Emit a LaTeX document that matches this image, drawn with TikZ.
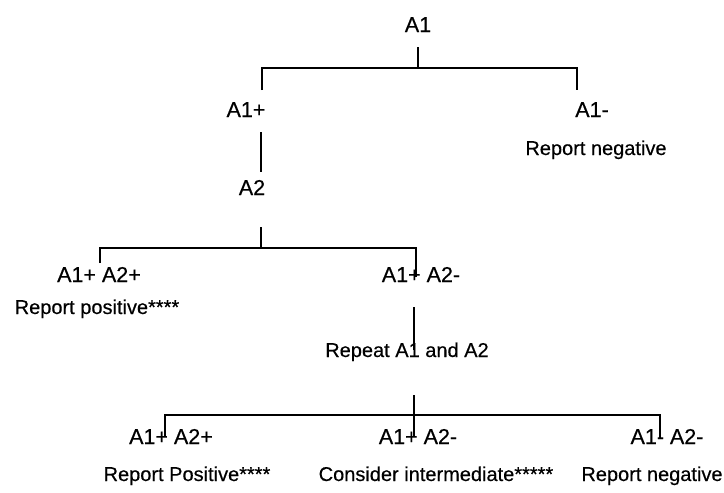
\documentclass[tikz,border=0pt]{standalone}
\usepackage{fontspec}
\setmainfont{Liberation Sans}[FakeBold=0.4]
\begin{document}
\begin{tikzpicture}[x=1pt,y=-1pt,
  lab/.style={inner sep=0pt, anchor=base, font=\fontsize{21.5}{24}\selectfont},
  txt/.style={inner sep=0pt, anchor=base, font=\fontsize{20}{24}\selectfont},
  conn/.style={line width=1.6pt, line cap=butt}]
\useasboundingbox (0,0) rectangle (724,493);
% texts
\node[lab] (a1) at (418,32) {A1};
\node[lab] (a1p) at (246,117) {A1+};
\node[lab] (a1m) at (592,117) {A1-};
\node[txt] (rn1) at (596,155) {Report negative};
\node[lab] (a2) at (252,195) {A2};
\node[lab] (pp1) at (99,282) {A1+ A2+};
\node[txt] (rp1) at (97,314) {Report positive****};
\node[lab] (pm1) at (421,282) {A1+ A2-};
\node[txt] (rep) at (407,357) {Repeat A1 and A2};
\node[lab] (pp2) at (171,444) {A1+ A2+};
\node[lab] (pm2) at (418,444) {A1+ A2-};
\node[lab] (mm2) at (667,444) {A1- A2-};
\node[txt] (rp2) at (187,481) {Report Positive****};
\node[txt] (ci) at (436,481) {Consider intermediate*****};
\node[txt] (rn2) at (652,481) {Report negative};
% connector points
\coordinate (s1) at (418,47);
\coordinate (j1) at (418,68);
\coordinate (l1) at (262,68);
\coordinate (l1e) at (262,90);
\coordinate (r1) at (577,68);
\coordinate (r1e) at (577,90);
\coordinate (s2) at (261,132);
\coordinate (e2) at (261,172);
\coordinate (s3) at (261,227);
\coordinate (j3) at (261,248);
\coordinate (l3) at (100,248);
\coordinate (l3e) at (100,263);
\coordinate (r3) at (416,248);
\coordinate (r3e) at (416,277);
\coordinate (s4) at (414,307);
\coordinate (e4) at (414,350);
\coordinate (s5) at (414,395);
\coordinate (e5) at (414,437);
\coordinate (l5) at (165,415);
\coordinate (l5e) at (165,437);
\coordinate (r5) at (660,415);
\coordinate (r5e) at (660,438);
% connectors
\draw[conn] (s1) -- (j1);
\draw[conn] (l1e) -- (l1) -- (r1) -- (r1e);
\draw[conn] (s2) -- (e2);
\draw[conn] (s3) -- (j3);
\draw[conn] (l3e) -- (l3) -- (r3) -- (r3e);
\draw[conn] (s4) -- (e4);
\draw[conn] (s5) -- (e5);
\draw[conn] (l5e) -- (l5) -- (r5) -- (r5e);
\end{tikzpicture}
\end{document}
